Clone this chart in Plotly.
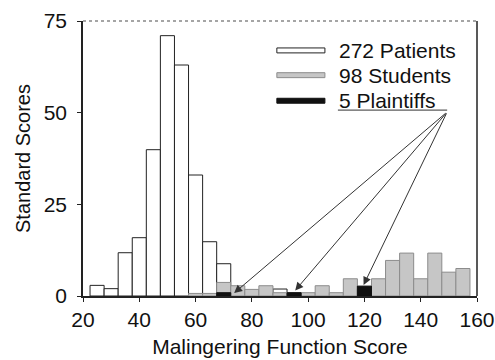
import plotly.graph_objects as go

# Bin centres (width 5)
bins = [25, 30, 35, 40, 45, 50, 55, 60, 65, 70, 75, 80, 85, 90, 95, 100,
        105, 110, 115, 120, 125, 130, 135, 140, 145, 150, 155]
patients = [2.9, 2.0, 11.8, 15.9, 39.9, 71.0, 63.0, 33.0, 14.8, 8.8, None, None, None, 1.9, None, None,
            None, None, None, None, None, None, None, None, None, None, None]
students = [None, None, None, None, None, None, None, 0.7, 0.7, 3.7, 2.8, 1.8, 2.8, 0.9, 0.9, 0.9,
            2.8, 0.9, 4.7, 2.0, 4.7, 9.7, 11.7, 4.7, 11.7, 6.5, 7.5]
plaintiffs = [None, None, None, None, None, None, None, None, None, 0.9, None, None, None, None, 0.9, None,
              None, None, None, 2.7, None, None, None, None, None, None, None]

legend_labels = ["272 Patients", "98 Students", "5 Plaintiffs"]
arrow_origin = (149.4, 50.2)
arrow_targets = [(73.7, 0.8), (95.4, 1.5), (119.7, 3.0)]

x_ticks = [20, 40, 60, 80, 100, 120, 140, 160]
y_ticks = [0, 25, 50, 75]

GRAY = "#c6c6c6"
GRAY_LINE = "#8c8c8c"
BLACK = "#111111"
FONT = "Liberation Sans, Arial, sans-serif"

fig = go.Figure()
fig.add_bar(x=bins, y=patients, width=5, marker=dict(color="white", line=dict(color="#222", width=1)))
fig.add_bar(x=bins, y=students, width=5, marker=dict(color=GRAY, line=dict(color=GRAY_LINE, width=1)))
fig.add_bar(x=bins, y=plaintiffs, width=5, marker=dict(color=BLACK, line=dict(color=BLACK, width=1)))

# custom legend
fills = [("white", "#222"), (GRAY, GRAY_LINE), (BLACK, BLACK)]
rows_y = [0.893, 0.803, 0.71]
for lab, (fc, lc), yy in zip(legend_labels, fills, rows_y):
    fig.add_shape(type="rect", xref="paper", yref="paper", x0=0.492, x1=0.614,
                  y0=yy - 0.009, y1=yy + 0.009, fillcolor=fc, line=dict(color=lc, width=1))
    fig.add_annotation(xref="paper", yref="paper", x=0.645, y=yy, text=lab, showarrow=False,
                       xanchor="left", yanchor="middle", font=dict(size=21, color="#111", family=FONT))

# underline of the plaintiffs label leading to arrow origin
fig.add_shape(type="line", xref="paper", x0=0.647, x1=(arrow_origin[0] - 20) / 140,
              yref="y", y0=arrow_origin[1] + 0.5, y1=arrow_origin[1] + 0.5,
              line=dict(color="#333", width=1))

for tx, ty in arrow_targets:
    fig.add_annotation(x=tx, y=ty, ax=arrow_origin[0], ay=arrow_origin[1], axref="x", ayref="y",
                       xref="x", yref="y", text="", showarrow=True, arrowhead=2, arrowsize=1.6,
                       arrowwidth=1, arrowcolor="#333")

# frame: dotted top, solid right
fig.add_shape(type="line", xref="paper", yref="paper", x0=0, x1=1, y0=1, y1=1,
              line=dict(color="#888", width=1.5, dash="dot"))
fig.add_shape(type="line", xref="paper", yref="paper", x0=1, x1=1, y0=0, y1=1,
              line=dict(color="#222", width=1.5))

fig.update_layout(
    width=495, height=360, barmode="overlay", showlegend=False,
    margin=dict(l=83, r=18, t=21, b=64),
    paper_bgcolor="white", plot_bgcolor="white",
    font=dict(family=FONT, size=21, color="#111"),
)
fig.update_xaxes(range=[20, 160], tickvals=x_ticks, showgrid=False, zeroline=False, automargin=False,
                 showline=True, linecolor="#222", linewidth=1.5, ticks="outside", ticklen=4,
                 tickcolor="#222", tickfont=dict(size=21),
                 title=dict(text="Malingering Function Score", font=dict(size=21), standoff=9))
fig.update_yaxes(range=[0, 75], tickvals=y_ticks, showgrid=False, zeroline=False, automargin=False,
                 showline=True, linecolor="#222", linewidth=1.5, ticks="outside", ticklen=4,
                 tickcolor="#222", tickfont=dict(size=21), ticklabelstandoff=6,
                 title=dict(text="Standard Scores", font=dict(size=20), standoff=8))

fig.write_html("out.html", config={"displayModeBar": False},
               post_script="document.body.style.margin='0';document.body.style.overflow='hidden';")
